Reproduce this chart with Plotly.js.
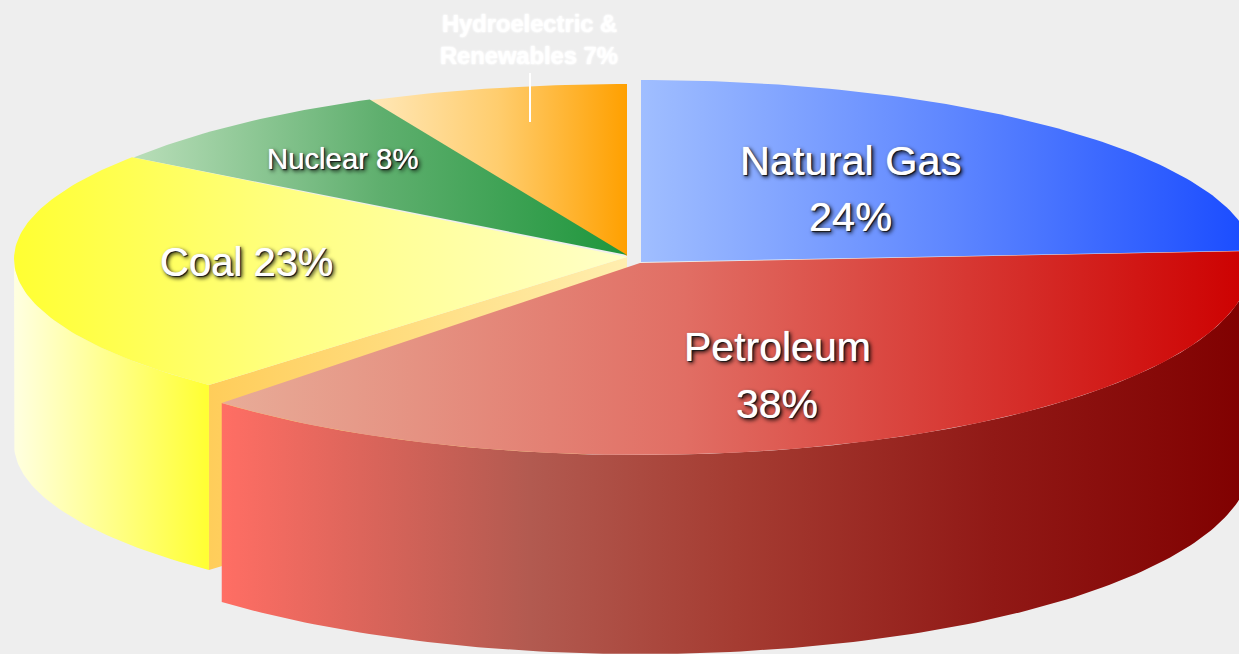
<!DOCTYPE html>
<html><head><meta charset="utf-8">
<script src="https://cdn.plot.ly/plotly-3.0.1.min.js"></script>
<style>html,body{margin:0;padding:0;background:#eeeeee}</style></head>
<body><div id="chart" style="width:1239px;height:654px"></div>
<script>
const categories = ["Natural Gas","Petroleum","Coal","Nuclear","Hydroelectric & Renewables"];
const shares = [24,38,23,8,7];
const labelLines = [["Natural Gas","24%"],["Petroleum","38%"],["Coal 23%"],["Nuclear 8%"],["Hydroelectric &","Renewables 7%"]];

// drawing geometry of the exploded, tilted pie (screen pixels)
const geo = [
 {ax:641,ay:262,cx:641,cy:262,rx:614,ry:182,depth:0,
  top:[[0,'rgb(160,190,255)'],[0.5,'rgb(95,135,255)'],[1,'rgb(25,75,255)']]},
 {ax:640,ay:263,cx:640,cy:263,rx:611,ry:192,depth:199,
  top:[[0,'rgb(232,172,152)'],[0.45,'rgb(225,110,100)'],[1,'rgb(205,0,0)']],
  side:[[0,'rgb(255,110,100)'],[0.3,'rgb(178,90,80)'],[0.5,'rgb(165,60,50)'],[0.75,'rgb(145,25,22)'],[1,'rgb(128,0,0)']]},
 {ax:627,ay:257,cx:632,cy:259,rx:618,ry:173,depth:185,
  top:[[0,'rgb(255,255,50)'],[0.45,'rgb(255,255,130)'],[1,'rgb(255,255,200)']],
  side:[[0,'rgb(255,255,225)'],[1,'rgb(255,255,50)']],
  cut:[[0,'rgb(255,205,90)'],[0.5,'rgb(255,222,130)'],[1,'rgb(255,238,175)']]},
 {ax:627,ay:255,cx:632,cy:265,rx:616,ry:183,depth:0,
  top:[[0,'rgb(185,222,185)'],[0.5,'rgb(95,175,110)'],[1,'rgb(30,150,60)']]},
 {ax:627,ay:256,cx:627,cy:256,rx:606,ry:172,depth:0,
  top:[[0,'rgb(255,232,185)'],[0.5,'rgb(255,205,110)'],[1,'rgb(255,160,0)']]}
];
const labelPos = [
 {x:850,ys:[160,216],size:41.5},{x:777,ys:[347,404],size:41},{x:246,ys:[262],size:40},
 {x:342,ys:[158],size:29.3},{x:529,ys:[24,56],size:23.7,bold:true}
];
const SHADOW = '0 0 1px #ffffff, 1px 1px 1px #000000, 2px 2px 4px #000000';
const GLOW = '0 0 2px #ffffff, 0 0 3px #ffffff';

const total = shares.reduce((a,b)=>a+b,0);
const rad = d => d*Math.PI/180;
function arc(g,a0,a1,dy){
  const xs=[],ys=[],n=Math.max(4,Math.ceil(Math.abs(a1-a0)));
  for(let i=0;i<=n;i++){const t=rad(a0+(a1-a0)*i/n);
    xs.push(g.cx+g.rx*Math.sin(t));ys.push(g.cy-g.ry*Math.cos(t)+(dy||0));}
  return [xs,ys];
}
function face(x,y,scale){
  return {type:'scatter',mode:'lines',x,y,fill:'toself',line:{width:0},hoverinfo:'skip',showlegend:false,
          fillgradient:{type:'horizontal',colorscale:scale}};
}
const starts=[];let acc=0;shares.forEach(v=>{starts.push(acc/total*360);acc+=v;});
const layers={};
shares.forEach((v,i)=>{
  const g=geo[i],a0=starts[i],a1=a0+v/total*360,L=[];
  if(g.cut){ // cut wall exposed next to the exploded neighbour
    const t=rad(a0),ex=g.cx+g.rx*Math.sin(t),ey=g.cy-g.ry*Math.cos(t);
    L.push(face([g.ax,ex,ex,g.ax],[g.ay,ey,ey+g.depth,g.ay+g.depth],g.cut));
  }
  if(g.side){
    const s0=Math.max(a0,90),s1=Math.min(a1,270);
    const [ax,ay]=arc(g,s0,s1,0),[bx,by]=arc(g,s1,s0,g.depth);
    L.push(face(ax.concat(bx),ay.concat(by),g.side));
  }
  const [tx,ty]=arc(g,a0,a1,0);
  L.push(face([g.ax].concat(tx,[g.ax]),[g.ay].concat(ty,[g.ay]),g.top));
  layers[i]=L;
});
// painter's order: back slices first, the front slice last
const data=[].concat(layers[4],layers[3],layers[0],layers[2],layers[1]);

const annotations=[];
labelLines.forEach((lines,i)=>lines.forEach((t,j)=>annotations.push({
  text:labelPos[i].bold?'<b>'+t+'</b>':t,x:labelPos[i].x,y:labelPos[i].ys[j],xref:'x',yref:'y',showarrow:false,
  xanchor:'center',yanchor:'middle',align:'center',
  font:{family:'Liberation Sans, Arial, sans-serif',size:labelPos[i].size,color:'#ffffff',
        shadow:i===4?GLOW:SHADOW}
})));
const layout={
  width:1239,height:654,margin:{l:0,r:0,t:0,b:0},
  paper_bgcolor:'#eeeeee',plot_bgcolor:'#eeeeee',showlegend:false,
  xaxis:{range:[0,1239],visible:false,fixedrange:true},
  yaxis:{range:[654,0],visible:false,fixedrange:true},
  annotations,
  shapes:[{type:'line',xref:'x',yref:'y',x0:530,x1:530,y0:73,y1:122,line:{color:'#ffffff',width:2}}]
};
Plotly.newPlot('chart',data,layout,{displayModeBar:false,staticPlot:true});
</script></body></html>
